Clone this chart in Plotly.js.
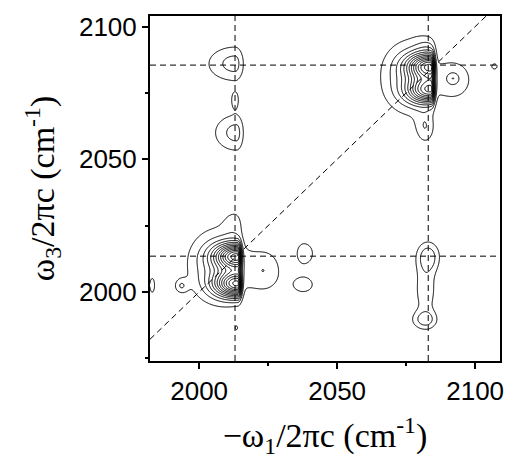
<!DOCTYPE html>
<html><head><meta charset="utf-8">
<script src="https://cdn.plot.ly/plotly-3.0.1.min.js"></script>
<style>html,body{margin:0;padding:0;background:#fff}</style>
</head><body><div id="chart" style="width:509px;height:461px"></div>
<script>
// Peaks (cm^-1): centre, amplitude, widths (left, right, vertical)
const peakX    = [2014, 2014, 2007, 2024, 2013, 2084, 2084, 2077, 2092, 2092, 2082, 2083, 2107, 2013, 2013, 2013.5, 2083, 2082, 2082, 2038, 2037.7, 1993.5, 1983, 2013.5];
const peakY    = [2013.4, 2003, 2010, 2008, 2026, 2085, 2076, 2081, 2080, 2080.5, 2062, 2093, 2085, 2086, 2072.5, 2060, 2013.4, 1989.5, 2001, 2014.5, 2002.8, 2002.3, 2002.5, 1986.5];
const peakAmp  = [1.0, 1.0, 0.26, 0.17, 0.1, 1.0, 0.9, 0.26, 0.17, 0.1, 0.16, 0.1, 0.15, 0.22, 0.15, 0.22, 0.22, 0.2, 0.16, 0.18, 0.15, 0.15, 0.15, 0.13];
const peakSigL = [5.5, 5.5, 8, 5, 3, 5.5, 5.5, 8, 5.5, 1.3, 2.5, 3, 1, 7.5, 1.1, 6, 3, 3.5, 3, 2.2, 3.6, 1.7, 0.9, 0.5];
const peakSigR = [0.9, 0.9, 7, 4.5, 2, 0.9, 0.9, 5, 5.5, 1.3, 2.5, 2, 1, 2.4, 1.1, 2, 3, 3, 3, 2.8, 3.6, 1.7, 0.9, 0.5];
const peakSigY = [3.4, 3.4, 10, 6, 4, 3.4, 3.4, 10, 6, 1.3, 4.5, 3, 1, 5, 2.5, 5.2, 4, 2.5, 8, 3.4, 2.9, 1.9, 2.8, 0.8];

// Dashed guide lines
const guideX = [2013, 2083];
const guideY = [2013.5, 2085.5];

const xRange = [1982.2, 2109];
const yRange = [1974, 2104];
const xTicks = [2000, 2050, 2100];
const yTicks = [2000, 2050, 2100];
const xMinor = [2025, 2075];
const yMinor = [1975, 2025, 2075];

const gridX = [], gridY = [];
for (let v = xRange[0]; v <= xRange[1]; v += 0.25) gridX.push(v);
for (let v = yRange[0]; v <= yRange[1]; v += 0.25) gridY.push(v);
const z = gridY.map(y => gridX.map(x => {
  let s = 0;
  for (let k = 0; k < peakX.length; k++) {
    const dx = x - peakX[k];
    const sx = dx < 0 ? peakSigL[k] : peakSigR[k];
    const dy = y - peakY[k];
    s += peakAmp[k] * Math.exp(-dx*dx/(2*sx*sx) - dy*dy/(2*peakSigY[k]*peakSigY[k]));
  }
  return s;
}));

const trace = {
  type: 'contour', x: gridX, y: gridY, z: z,
  contours: {coloring: 'lines', start: 0.1, end: 1.3, size: 0.085},
  colorscale: [[0, '#000'], [1, '#000']],
  line: {width: 1, smoothing: 1},
  showscale: false, hoverinfo: 'skip'
};

const dash = '6px,4px';
const shapes = [];
guideX.forEach(v => shapes.push({type: 'line', xref: 'x', yref: 'paper', x0: v, x1: v, y0: 0, y1: 1, line: {color: '#000', width: 1, dash: dash}}));
guideY.forEach(v => shapes.push({type: 'line', xref: 'paper', yref: 'y', x0: 0, x1: 1, y0: v, y1: v, line: {color: '#000', width: 1, dash: dash}}));
shapes.push({type: 'line', xref: 'x', yref: 'y', x0: xRange[0], y0: xRange[0], x1: yRange[1], y1: yRange[1], line: {color: '#000', width: 1, dash: dash}});

const tickFont = {family: 'Liberation Sans, Arial, sans-serif', size: 26, color: '#000'};
const titleFont = {family: 'Liberation Serif, Times New Roman, serif', size: 34, color: '#000'};

const layout = {
  width: 509, height: 461,
  margin: {l: 150, r: 9, t: 16, b: 100},
  paper_bgcolor: '#fff', plot_bgcolor: '#fff',
  showlegend: false,
  xaxis: {
    range: xRange, tickvals: xTicks, ticktext: xTicks.map(String),
    ticks: 'outside', ticklen: 6, tickwidth: 2, tickcolor: '#000',
    minor: {tickvals: xMinor, ticks: 'outside', ticklen: 3, tickwidth: 2, tickcolor: '#000'},
    showline: true, linewidth: 2, linecolor: '#000', mirror: true,
    showgrid: false, zeroline: false, tickfont: tickFont,
    title: {text: '\u2212\u03c9<sub>1</sub>/2\u03c0c (cm<sup>-1</sup>)', font: titleFont, standoff: 18}
  },
  yaxis: {
    range: yRange, tickvals: yTicks, ticktext: yTicks.map(String),
    ticks: 'outside', ticklen: 6, tickwidth: 2, tickcolor: '#000',
    minor: {tickvals: yMinor, ticks: 'outside', ticklen: 3, tickwidth: 2, tickcolor: '#000'},
    showline: true, linewidth: 2, linecolor: '#000', mirror: true,
    showgrid: false, zeroline: false, tickfont: tickFont,
    title: {text: '\u03c9<sub>3</sub>/2\u03c0c (cm<sup>-1</sup>)', font: titleFont, standoff: 14}
  },
  shapes: shapes
};

Plotly.newPlot('chart', [trace], layout, {staticPlot: true, displayModeBar: false});
</script></body></html>
